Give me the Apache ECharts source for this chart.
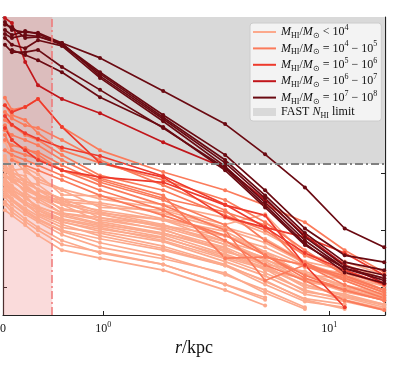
<!DOCTYPE html>
<html><head><meta charset="utf-8">
<script src="https://cdn.jsdelivr.net/npm/echarts/dist/echarts.min.js"></script>
<style>html,body{margin:0;padding:0;background:#fff}#c{width:402px;height:370px}</style>
</head><body><div id="c"></div>
<script>
// radial bins (kpc)
const radiiKpc = [0.367, 0.394, 0.451, 0.514, 0.656, 0.967, 1.84, 3.46, 5.2, 7.8, 11.7, 17.5];
// x-axis range (kpc)
const xMin = 0.3598, xMax = 17.64;
// y-axis: log10 N_HI range
const yMin = 15.514, yMax = 20.737;
const fastLimit = 18.16;     // FAST N_HI limit (log10)
const beamRadius = 0.5945;   // beam-limited radius (kpc)

// log10 N_HI profiles, M_HI/Msun < 1e4
const profilesLt4 = [
 [18.40,18.30,18.10,17.98,17.62,17.60,17.45,17.22,16.95,16.58,16.40,16.15],
 [18.25,18.05,18.08,17.85,17.70,17.40,17.35,17.05,16.85,16.45,16.30,16.05],
 [18.10,17.95,17.85,17.80,17.50,17.45,17.20,16.98,16.62,16.35,16.25,15.95],
 [18.05,18.00,17.75,17.62,17.46,17.30,17.18,16.80,16.60,16.22,16.15,15.90],
 [17.95,17.85,17.72,17.65,17.35,17.28,17.05,16.75,16.48,16.25,16.00,15.88],
 [17.90,17.78,17.60,17.55,17.30,17.18,17.02,16.62,16.45,16.10,15.98,15.80],
 [17.85,17.70,17.58,17.40,17.28,17.12,16.92,16.58,16.35,16.05,15.85,15.70],
 [17.80,17.65,17.50,17.38,17.20,17.08,16.88,16.52,16.32,15.92,15.82,15.65],
 [17.72,17.62,17.45,17.30,17.15,16.98,16.80,16.45,16.20,15.88,15.75,15.60],
 [17.70,17.55,17.38,17.25,17.05,16.95,16.72,16.40,16.10,15.80,15.70,null],
 [18.30,18.00,17.95,17.70,17.55,17.32,17.10,16.75,16.52,16.40,16.18,15.95],
 [18.15,17.90,17.80,17.62,17.52,17.22,17.00,16.70,16.40,16.28,16.02,15.85],
 [17.98,17.88,17.70,17.60,17.45,17.15,16.95,16.68,16.30,16.15,15.92,15.78],
 [17.62,17.52,17.35,17.20,17.00,16.85,16.65,16.38,16.05,15.75,15.65,null],
 [17.58,17.45,17.28,17.15,16.92,16.70,16.50,16.25,15.90,15.62,null,null],
 [17.50,17.38,17.20,17.05,16.82,16.60,16.40,16.05,15.82,null,null,null],
 [18.22,18.12,17.82,17.72,17.55,17.48,17.30,17.02,16.78,16.42,16.20,16.02],
 [17.96,17.92,17.66,17.50,17.30,17.22,17.08,16.90,16.70,16.38,16.12,15.85],
 [17.88,17.75,17.62,17.35,17.18,17.05,16.82,16.50,16.25,15.95,15.78,15.62],
 [17.79,17.70,17.48,17.28,17.10,16.90,16.68,16.38,16.12,15.78,15.62,null],
 [17.66,17.52,17.32,17.18,16.98,16.78,16.55,16.22,15.95,15.65,null,null],
 [17.45,17.32,17.15,17.00,16.75,16.62,16.40,16.05,15.78,null,null,null],
 [18.55,18.28,18.02,17.90,17.72,17.55,17.38,17.10,17.28,16.55,16.45,16.22],
 [18.05,17.92,17.79,17.58,17.38,17.28,17.08,16.80,16.50,16.12,16.02,15.82],
 [17.74,17.65,17.46,17.35,17.14,17.02,16.86,16.56,16.33,16.04,15.84,15.68],
 [17.35,17.26,17.09,16.91,16.65,16.51,16.30,15.95,15.68,null,null,null],
 [18.14,18.02,17.88,17.70,17.47,17.35,17.18,16.91,16.62,16.21,16.04,15.88],
 [17.82,17.72,17.56,17.42,17.25,17.10,16.95,16.65,16.38,16.00,15.88,15.70]
];
// M_HI/Msun = 1e4 - 1e5
const profiles4to5 = [
 [19.32,19.11,19.16,19.30,18.81,18.40,18.02,17.70,17.44,17.14,16.65,16.26],
 [19.19,19.02,18.93,18.70,18.40,18.18,17.88,17.53,17.14,16.65,16.21,15.95],
 [19.07,18.96,18.84,18.79,18.58,18.23,17.79,17.35,16.82,16.44,16.12,15.86],
 [18.93,18.84,18.67,18.58,18.32,17.96,17.70,17.26,17.00,16.56,16.26,16.04],
 [18.75,18.67,18.58,18.49,18.23,17.91,17.61,16.51,16.53,16.39,16.04,15.81],
 [18.84,18.58,18.40,18.37,18.14,17.84,17.53,17.09,16.56,16.16,15.95,15.77],
 [18.58,18.49,18.44,18.32,18.05,17.79,17.44,17.00,16.12,16.39,16.20,15.95],
 [18.40,18.32,18.23,18.14,17.96,17.70,17.35,16.82,16.39,16.12,15.77,15.60],
 [18.67,18.40,18.32,18.26,18.05,17.88,17.56,17.32,17.09,16.37,16.16,15.91],
 [null,18.23,18.14,18.05,17.88,17.61,17.26,16.91,16.56,16.21,15.95,15.77]
];
// M_HI/Msun = 1e5 - 1e6
const profiles5to6 = [
 [19.19,19.07,19.16,19.30,18.81,18.18,17.93,17.23,17.05,16.88,16.60,16.21],
 [18.79,18.58,18.40,18.23,18.05,17.93,17.84,17.44,17.26,16.39,15.65,null],
 [19.00,18.85,18.70,18.60,18.45,18.30,17.95,17.45,17.05,16.60,16.30,16.05]
];
// M_HI/Msun = 1e6 - 1e7
const profiles6to7 = [
 [20.72,20.63,19.95,19.54,19.30,19.05,18.54,18.09,17.53,16.91,16.39,16.07]
];
// M_HI/Msun = 1e7 - 1e8
const profiles7to8 = [
 [20.65,20.51,20.47,20.46,20.28,20.02,19.44,18.86,18.33,17.75,17.03,16.70],
 [20.51,20.42,20.49,20.44,20.26,19.77,19.02,18.32,17.70,17.03,16.56,16.44],
 [20.44,20.37,20.42,20.40,20.25,19.74,18.98,18.23,17.61,16.95,16.44,16.30],
 [20.60,20.56,20.37,20.39,20.28,19.70,18.95,18.18,17.56,16.88,16.37,16.21],
 [20.37,20.25,20.19,20.33,20.23,19.67,18.91,18.12,17.49,16.82,16.33,16.12],
 [20.25,20.12,20.12,20.16,19.86,19.46,18.79,18.09,17.44,16.77,16.26,16.07],
 [null,20.16,20.07,19.98,19.77,19.33,18.81,18.05,17.40,16.74,16.33,16.16]
];

const groupKeys = ['g1','g2','g3','g4','g5'];
const groupColors = ['#fca98c','#fb7b5b','#ee3a2c','#c1161b','#6a0a12'];
const legendLabels = {
  g1: '{i|M}{sb|HI}{n|/}{i|M}{sb|⊙}{n| < 10}{sp|4}',
  g2: '{i|M}{sb|HI}{n|/}{i|M}{sb|⊙}{n| = 10}{sp|4}{n| − 10}{sp|5}',
  g3: '{i|M}{sb|HI}{n|/}{i|M}{sb|⊙}{n| = 10}{sp|5}{n| − 10}{sp|6}',
  g4: '{i|M}{sb|HI}{n|/}{i|M}{sb|⊙}{n| = 10}{sp|6}{n| − 10}{sp|7}',
  g5: '{i|M}{sb|HI}{n|/}{i|M}{sb|⊙}{n| = 10}{sp|7}{n| − 10}{sp|8}',
  fast: '{n|FAST }{i|N}{sb|HI}{n| limit}'
};

const SERIF = 'Liberation Serif';
const series = [];
series.push({
  type:'line', name:'fast', data:[], z:1, silent:true,
  itemStyle:{color:'#d9d9d9'}, lineStyle:{color:'#d9d9d9'},
  markArea:{silent:true, itemStyle:{color:'#d9d9d9'}, data:[[{yAxis:fastLimit},{yAxis:yMax}]]}
});
series.push({
  type:'line', name:'beam', data:[], z:1, silent:true,
  markArea:{silent:true, itemStyle:{color:'rgba(232,90,90,0.22)'}, data:[[{xAxis:xMin},{xAxis:beamRadius}]]}
});
series.push({
  type:'line', name:'limits', data:[], z:1.5, silent:true,
  markLine:{silent:true, symbol:'none', label:{show:false},
    data:[
      {yAxis:fastLimit, lineStyle:{color:'#808080', width:2, type:[8,3,2,3]}},
      {xAxis:beamRadius, lineStyle:{color:'#f07878', width:1.5, type:[8,3,2,3]}}
    ]}
});
[profilesLt4, profiles4to5, profiles5to6, profiles6to7, profiles7to8].forEach((group, gi) => {
  group.forEach(p => {
    series.push({
      type:'line', name:groupKeys[gi],
      data: radiiKpc.map((r,i)=>[r,p[i]]).filter(d=>d[1]!=null),
      symbol:'circle', symbolSize:4, showSymbol:true,
      itemStyle:{color:groupColors[gi]},
      lineStyle:{color:groupColors[gi], width:1.7},
      emphasis:{disabled:true}
    });
  });
});

const linePath = 'path://M0,0H23V2H0Z';
const richText = {
  i:{fontFamily:SERIF, fontStyle:'italic', fontSize:12, lineHeight:16, color:'#111'},
  n:{fontFamily:SERIF, fontSize:12, lineHeight:16, color:'#111'},
  sb:{fontFamily:SERIF, fontSize:8, lineHeight:8, verticalAlign:'bottom', color:'#111'},
  sp:{fontFamily:SERIF, fontSize:8, lineHeight:8, verticalAlign:'top', color:'#111'}
};
const axisRich = {
  b:{fontFamily:SERIF, fontSize:12, lineHeight:15, color:'#111'},
  p:{fontFamily:SERIF, fontSize:8, lineHeight:8, verticalAlign:'top', color:'#111'}
};
function xLabel(v){
  if (v < 0.5) return '{b|0}';
  const e = Math.round(Math.log10(v));
  return '{b|10}{p|' + e + '}';
}
const frame = {lineStyle:{color:'#222', width:1.2}};
const tick = {show:true, inside:true, length:4, lineStyle:{color:'#222', width:1}};

const option = {
  animation:false,
  backgroundColor:'#fff',
  grid:{left:3, right:17, top:17, bottom:55, outerBoundsMode:'none', containLabel:false},
  legend:{
    orient:'vertical', left:250, top:23, padding:[1,4,1,3], itemGap:0.4,
    itemWidth:23, itemHeight:8, selectedMode:false,
    backgroundColor:'rgba(245,245,245,0.9)', borderColor:'#cccccc', borderWidth:1, borderRadius:3,
    data:[
      {name:'g1', icon:linePath},{name:'g2', icon:linePath},{name:'g3', icon:linePath},
      {name:'g4', icon:linePath},{name:'g5', icon:linePath},{name:'fast', icon:'rect'}
    ],
    formatter: n => legendLabels[n],
    textStyle:{rich:richText, fontFamily:SERIF, fontSize:12, color:'#111'}
  },
  xAxis:[{
    type:'log', logBase:10, min:xMin, max:xMax, position:'bottom',
    axisLine:frame, axisTick:tick, minorTick:{show:false}, splitLine:{show:false},
    axisLabel:{show:true, margin:6, showMinLabel:true, showMaxLabel:false, formatter:xLabel, rich:axisRich},
    name:'{i|r}{n|/kpc}', nameLocation:'middle', nameGap:22,
    nameTextStyle:{rich:{
      i:{fontFamily:SERIF, fontStyle:'italic', fontSize:18, color:'#111'},
      n:{fontFamily:SERIF, fontSize:18, color:'#111'}}}
  },{
    type:'log', logBase:10, min:xMin, max:xMax, position:'top',
    axisLine:frame, axisTick:tick, axisLabel:{show:false}, splitLine:{show:false}
  }],
  yAxis:[{
    type:'value', min:yMin, max:yMax, position:'left',
    axisLine:{show:true, lineStyle:{color:'#222', width:1.2}}, axisTick:tick,
    axisLabel:{show:false}, splitLine:{show:false}
  },{
    type:'value', min:yMin, max:yMax, position:'right',
    axisLine:{show:true, lineStyle:{color:'#222', width:1.2}}, axisTick:tick,
    axisLabel:{show:false}, splitLine:{show:false}
  }],
  series: series
};
const chart = echarts.init(document.getElementById('c'), null, {renderer:'canvas'});
chart.setOption(option);
</script></body></html>
